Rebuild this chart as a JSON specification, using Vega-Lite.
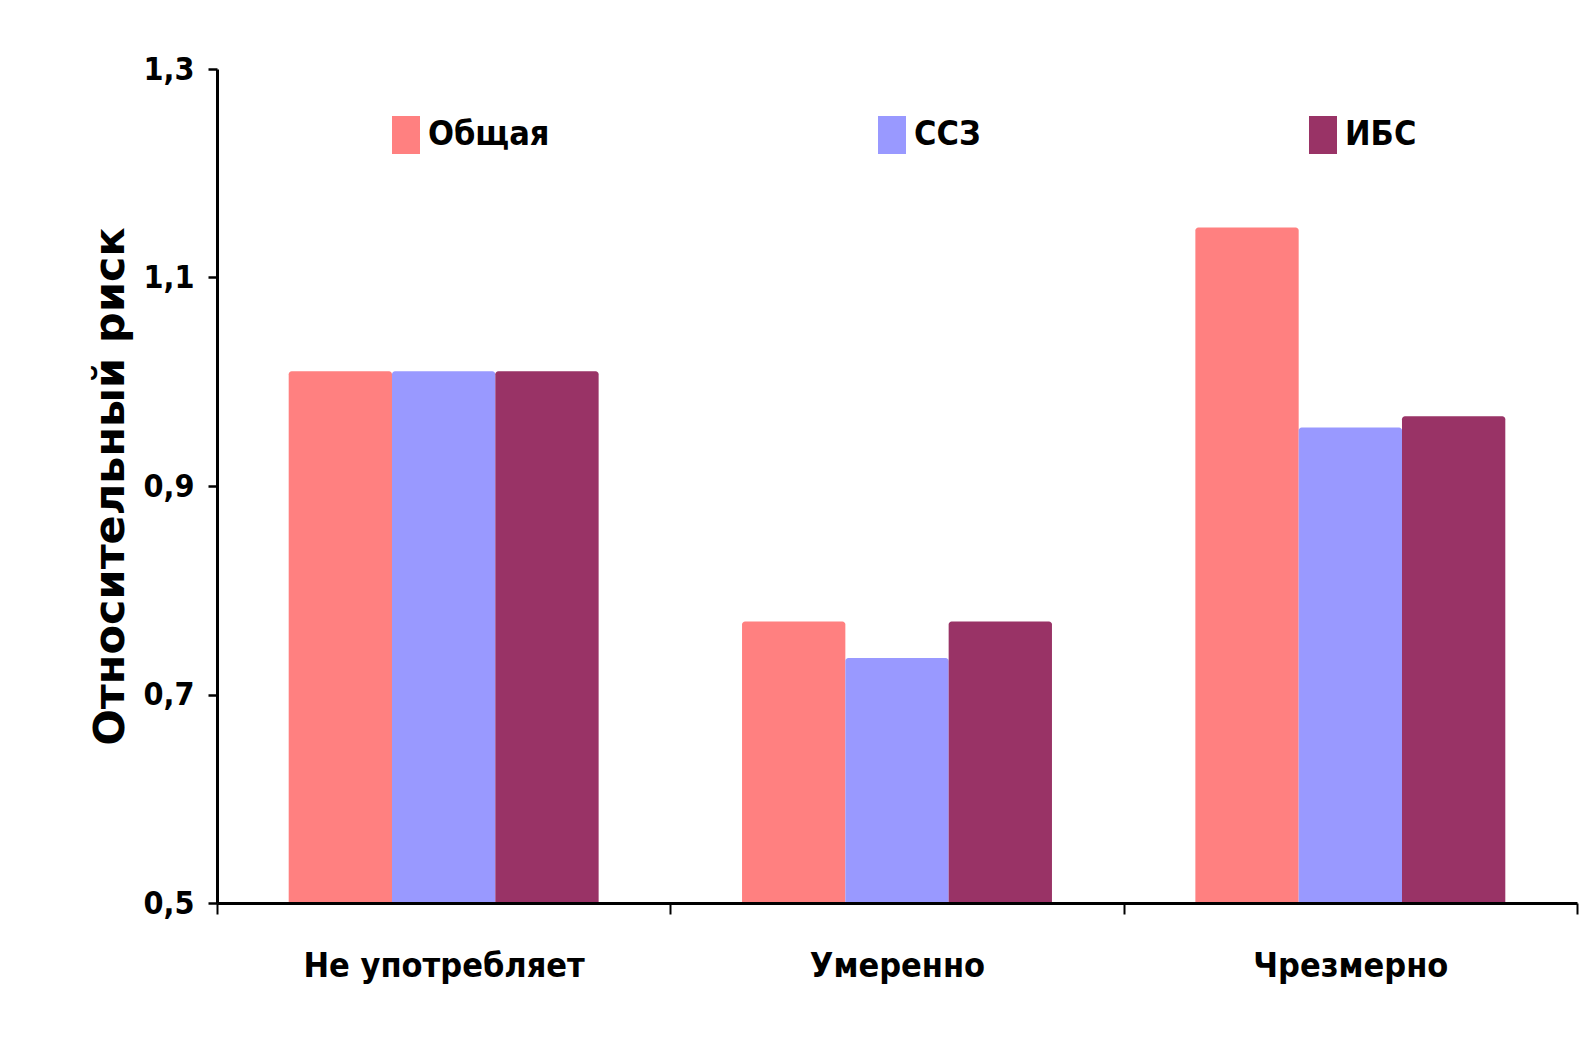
{
  "$schema": "https://vega.github.io/schema/vega-lite/v6.json",
  "width": 1360,
  "height": 834,
  "autosize": {"type": "none"},
  "padding": {"left": 217, "top": 69, "right": 6, "bottom": 154},
  "background": "white",
  "data": {
    "values": [
      {"group": "Не употребляет", "type": "Общая", "value": 1.01},
      {"group": "Не употребляет", "type": "ССЗ", "value": 1.01},
      {"group": "Не употребляет", "type": "ИБС", "value": 1.01},
      {"group": "Умеренно", "type": "Общая", "value": 0.77},
      {"group": "Умеренно", "type": "ССЗ", "value": 0.735},
      {"group": "Умеренно", "type": "ИБС", "value": 0.77},
      {"group": "Чрезмерно", "type": "Общая", "value": 1.148},
      {"group": "Чрезмерно", "type": "ССЗ", "value": 0.956},
      {"group": "Чрезмерно", "type": "ИБС", "value": 0.967}
    ]
  },
  "mark": {"type": "bar", "cornerRadiusTopLeft": 3, "cornerRadiusTopRight": 3},
  "encoding": {
    "x": {
      "field": "group",
      "type": "nominal",
      "sort": ["Не употребляет", "Умеренно", "Чрезмерно"],
      "scale": {"paddingInner": 0, "paddingOuter": 0},
      "axis": {
        "title": null,
        "labelAngle": 0,
        "tickBand": "extent",
        "labelFont": "DejaVu Sans Condensed",
        "labelFontSize": 34,
        "labelFontWeight": "bold",
        "labelColor": "black",
        "labelLimit": 600,
        "tickColor": "black",
        "tickSize": 11,
        "tickWidth": 2,
        "domainColor": "black",
        "domainWidth": 3,
        "labelPadding": 35,
        "zindex": 1
      }
    },
    "xOffset": {
      "field": "type",
      "type": "nominal",
      "sort": ["Общая", "ССЗ", "ИБС"],
      "scale": {"paddingInner": 0, "paddingOuter": 0.694}
    },
    "y": {
      "field": "value",
      "type": "quantitative",
      "scale": {"domain": [0.5, 1.3], "zero": false, "nice": false},
      "axis": {
        "values": [0.5, 0.7, 0.9, 1.1, 1.3],
        "labelExpr": "replace(format(datum.value, '.1f'), '.', ',')",
        "title": "Относительный риск",
        "titleFont": "DejaVu Sans",
        "titleFontSize": 43,
        "titleFontWeight": "bold",
        "titleColor": "black",
        "titlePadding": 11,
        "labelFont": "DejaVu Sans Condensed",
        "labelFontSize": 32,
        "labelFontWeight": "bold",
        "labelColor": "black",
        "labelPadding": 14,
        "tickColor": "black",
        "tickSize": 9,
        "tickWidth": 2.5,
        "domainColor": "black",
        "domainWidth": 3,
        "grid": false,
        "zindex": 1
      }
    },
    "y2": {"datum": 0.5},
    "color": {
      "field": "type",
      "type": "nominal",
      "scale": {"domain": ["Общая", "ССЗ", "ИБС"], "range": ["#FF8080", "#9999FF", "#993366"]},
      "legend": {
        "title": null,
        "orient": "none",
        "legendX": 170,
        "legendY": 47,
        "direction": "horizontal",
        "symbolType": "M-0.737,-1H0.737V1H-0.737Z",
        "symbolSize": 1444,
        "symbolStrokeWidth": 0,
        "symbolOpacity": 1,
        "labelFont": "DejaVu Sans Condensed",
        "labelFontSize": 34,
        "labelFontWeight": "bold",
        "labelColor": "black",
        "labelOffset": 3,
        "labelLimit": 400,
        "columnPadding": 323,
        "padding": 0
      }
    }
  },
  "config": {"view": {"stroke": null}}
}
